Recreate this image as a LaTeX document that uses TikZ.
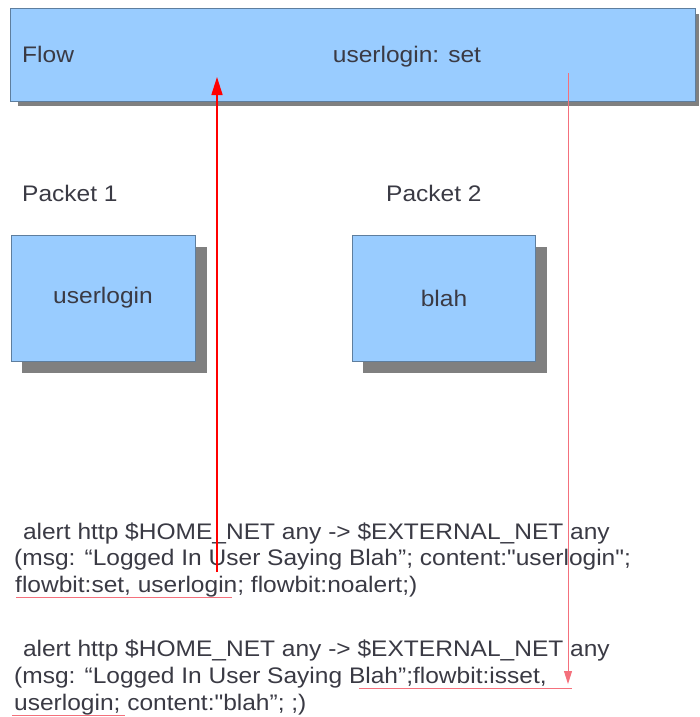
\documentclass[tikz,border=0pt]{standalone}
\usepackage{fontspec}
\usepackage{graphicx}
\setmainfont{Liberation Sans}[Ligatures=TeXOff]
\usetikzlibrary{arrows.meta}
\definecolor{boxfill}{HTML}{99CCFF}
\definecolor{boxline}{HTML}{5E7E9E}
\definecolor{shadowgray}{HTML}{808080}
\definecolor{txt}{HTML}{3A3A44}
\definecolor{redA}{HTML}{FF0000}
\definecolor{redB}{HTML}{F4707C}
\newcommand\widetext[1]{\scalebox{1.09}[1]{#1}}
\begin{document}
\begin{tikzpicture}[x=1pt,y=-1pt,
  bluebox/.style={draw=boxline,fill=boxfill,line width=1pt,inner sep=0pt},
  lbl/.style={text=txt,font=\fontsize{22.5}{26}\selectfont,inner sep=0pt},
  rule/.style={text=txt,font=\fontsize{22.5}{26}\selectfont,inner sep=0pt,anchor=base west},
  arrA/.style={redA,line width=1.6pt,-{Triangle[length=18pt,width=11pt]}},
  arrB/.style={redB,line width=0.9pt,-{Triangle[length=13pt,width=8pt]}},
  ulA/.style={redB,line width=1pt},
]
\useasboundingbox (0,0) rectangle (699,717);
% shadows
\fill[shadowgray] (18,14) rectangle (699,106);
\fill[shadowgray] (22,247) rectangle (207,373);
\fill[shadowgray] (363,247) rectangle (547,373);
% boxes
\node[bluebox,minimum width=685pt,minimum height=93pt,anchor=north west] (flow) at (10,8) {};
\node[bluebox,minimum width=184pt,minimum height=126pt,anchor=north west] (p1) at (11,235) {};
\node[bluebox,minimum width=183pt,minimum height=126pt,anchor=north west] (p2) at (352,235) {};
\node[lbl,anchor=base west] (flowlbl) at (22,63) {\widetext{Flow}};
\node[lbl,anchor=base] (setlbl) at (407,63) {\widetext{userlogin: set}};
\node[lbl] (p1txt) at (103,298) {\widetext{userlogin}};
\node[lbl] (p2txt) at (444,298) {\widetext{blah}};
\node[lbl,anchor=base west] (p1lbl) at (22,201) {\widetext{Packet 1}};
\node[lbl,anchor=base west] (p2lbl) at (386,201) {\widetext{Packet 2}};
% rules
\node[rule] (r1a) at (16,539) {\widetext{\ alert http \$HOME\_NET any -> \$EXTERNAL\_NET any}};
\node[rule] (r1b) at (14,565) {\widetext{(msg: “Logged In User Saying Blah”; content:"userlogin";}};
\node[rule] (r1c) at (15,592) {\widetext{flowbit:set, userlogin; flowbit:noalert;)}};
\node[rule] (r2a) at (16,656) {\widetext{\ alert http \$HOME\_NET any -> \$EXTERNAL\_NET any}};
\node[rule] (r2b) at (14,683) {\widetext{(msg: “Logged In User Saying Blah”;flowbit:isset,}};
\node[rule] (r2c) at (14,710) {\widetext{userlogin; content:"blah”; ;)}};
% underlines
\coordinate (u1s) at (16,597.5);
\coordinate (u1e) at (232,597.5);
\coordinate (u2s) at (359,688.5);
\coordinate (u2e) at (572,688.5);
\coordinate (u3s) at (12,715.5);
\coordinate (u3e) at (125,715.5);
\draw[ulA] (u1s) -- (u1e);
\draw[ulA] (u2s) -- (u2e);
\draw[ulA] (u3s) -- (u3e);
% arrows
\coordinate (a1s) at (217,572);
\coordinate (a1e) at (217,77);
\draw[arrA] (a1s) -- (a1e);
\coordinate (a2s) at (568,73);
\coordinate (a2e) at (568,684);
\draw[arrB] (a2s) -- (a2e);
\end{tikzpicture}
\end{document}
